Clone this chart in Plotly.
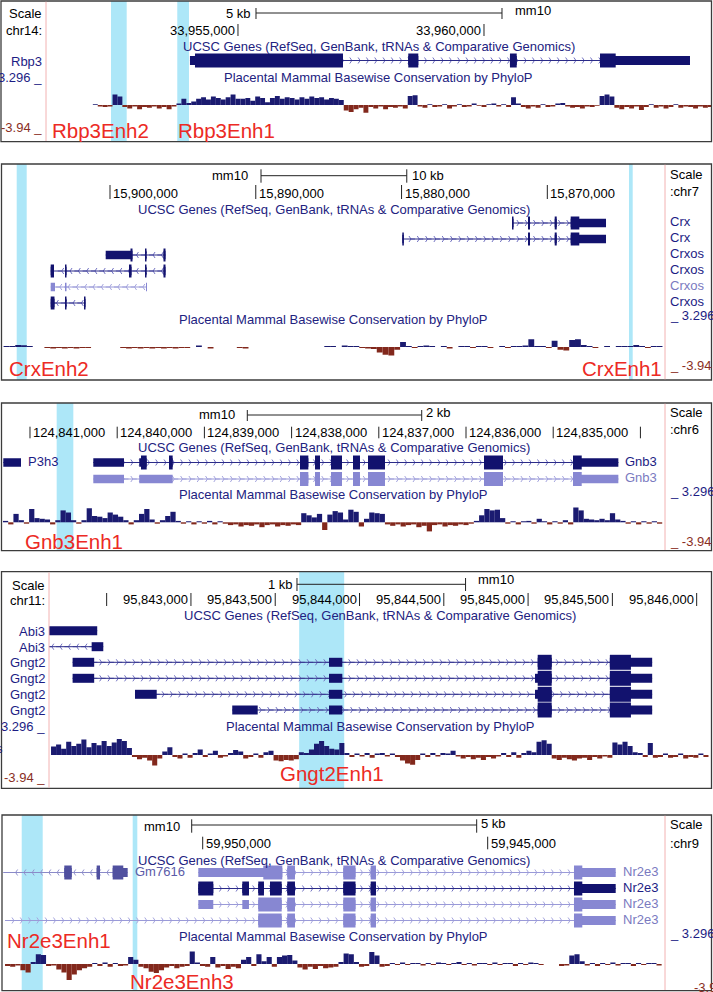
import plotly.graph_objects as go

# =============================== DATA ===============================
CONS_MIN, CONS_MAX = -3.94, 3.296

# ---- Panel 1: Rbp3 region (mm10 chr14, forward) ----
p1_chrom = "chr14:"
p1_view = [33951098, 33964614]
p1_ticks = [33955000, 33960000]
p1_tick_labels = ["33,955,000", "33,960,000"]
p1_scale = ["5 kb", 5000]
p1_enh_names = ["Rbp3Enh2", "Rbp3Enh1"]
p1_enh_spans = [[33952419, 33952738], [33953766, 33954004]]
p1_tx_names = ["Rbp3"]
p1_tx_strand = ["+"]
p1_tx_spans = [[33954024, 33964187]]
p1_cds_spans = [[33954126, 33962677]]
p1_exons = [[[33954024, 33957134], [33958461, 33958665], [33960528, 33960665], [33962358, 33964187]]]
p1_cons_start, p1_cons_step = 33952050, 100
p1_cons = [0.1, -0.2, -0.3, -0.2, 1.5, 1.2,
           -0.3, -0.5, -0.2, -0.6, -0.3, -0.4, -0.2, -0.5, -0.3, -0.6, -0.2,
           0.2, 0.9, 0.3, 0.5,
           0.9, 1.1, 0.8, 1.2, 1.0, 0.8, 1.1, 1.5, 0.9, 0.9, 1.0, 0.6, 1.2, 1.0, 0.4,
           1.0, 1.3, 0.9, 1.1, 1.0, 0.8, 1.1, 0.9, 1.2, 1.0, 1.1, 0.8, 1.0, 0.9, 0.7,
           -0.8, -1.0, -0.6, -0.4, -1.1, -0.3, -0.5, -0.2, -0.6, -0.3, -0.4, -0.2, -0.5,
           1.3, 1.4,
           -0.2, -0.4, 0.1, -0.3, -0.2, 0.1, -0.5, -0.2, 0.1, -0.3, -0.2, 0.2, -0.1, -0.3,
           0.1, 0.2, -0.2, 0.1, -0.3,
           1.1, 0.2,
           -0.3, -0.5, -0.2, -0.4, 0.1, -0.3, -0.2, 0.2, 0.3, -0.2, -0.4, -0.3, -0.5, -0.2, -0.3, -0.1,
           1.3, 1.5, 1.2,
           -0.4, -0.6, -0.3, -0.5, -0.2, -0.7, -0.3, 0.1, -0.4, -0.2, -0.5, -0.3, 0.1, -0.4,
           -0.2, -0.3, -0.5, -0.2, -0.4, -0.3]

# ---- Panel 2: Crx region (mm10 chr7, reverse display) ----
p2_chrom = ":chr7"
p2_view = [15907409, 15861927]
p2_ticks = [15900000, 15890000, 15880000, 15870000]
p2_tick_labels = ["15,900,000", "15,890,000", "15,880,000", "15,870,000"]
p2_scale = ["10 kb", 10000]
p2_enh_names = ["CrxEnh2", "CrxEnh1"]
p2_enh_spans = [[15905714, 15906400], [15864143, 15864397]]
p2_tx_names = ["Crx", "Crx", "Crxos", "Crxos", "Crxos", "Crxos"]
p2_tx_strand = ["-", "-", "+", "+", "+", "+"]
p2_tx_spans = [[15865974, 15872423], [15865974, 15879947], [15896193, 15900295],
               [15896193, 15904068], [15897462, 15904068], [15901681, 15904068]]
p2_cds_spans = [[15867806, 15872423], [15867806, 15879947], [15896193, 15898594],
                [15896193, 15904068], None, [15901681, 15904068]]
p2_exons = [
    [[15865974, 15868396], [15869356, 15869493], [15871188, 15871325], [15872320, 15872423]],
    [[15865974, 15868396], [15869356, 15869493], [15871188, 15871325], [15879844, 15879947]],
    [[15896193, 15896330], [15897496, 15897599], [15898457, 15900295]],
    [[15896193, 15896330], [15897496, 15897599], [15898525, 15898697], [15902984, 15903087], [15903842, 15904068]],
    [[15897462, 15897530], [15902984, 15903087], [15903773, 15904068]],
    [[15901681, 15901784], [15902984, 15903087], [15903808, 15904068]],
]
p2_cons_start, p2_cons_step = 15907300, -400
p2_cons = [0.15, 0.15, 0.3, 0.25, 0.15, None, None,
           -0.15, -0.2, -0.15, -0.2, -0.15, -0.2, -0.15, -0.15,
           None, None, None, None, None,
           -0.15, -0.2, -0.15, -0.2, -0.15, -0.2, -0.15, -0.2, -0.15, -0.2,
           -0.15, -0.15, None, 0.2, None, -0.2, None, None, None, None, -0.15, -0.2,
           None, None, None, None, None, None, None, None, None, None, None, None, None,
           0.15, 0.15, None, 0.2, 0.15,
           0.15, -0.15, -0.2, -0.3, -0.8, -1.1, -1.2, -0.4, 0.7,
           0.15, -0.15, 0.15, 0.2, 0.15, None, 0.15, -0.2, None,
           0.15, 0.15, -0.15, 0.15, 0.15, -0.15, None, 0.15, -0.15, 0.15, 0.15,
           0.2, 1.1, 0.15, 0.15, -0.15, 0.9, -0.4, -0.5, 1.0, 1.1, 0.3,
           0.15, -0.15, None, 0.15, None,
           0.15, 0.15, 0.15, 0.3, 0.15, -0.15, 0.15, 0.15]

# ---- Panel 3: Gnb3 region (mm10 chr6, reverse display) ----
p3_chrom = ":chr6"
p3_view = [124841321, 124833718]
p3_ticks = [124841000, 124840000, 124839000, 124838000, 124837000, 124836000, 124835000, 124834000]
p3_tick_labels = ["124,841,000", "124,840,000", "124,839,000", "124,838,000",
                  "124,837,000", "124,836,000", "124,835,000", ""]
p3_scale = ["2 kb", 2000]
p3_enh_names = ["Gnb3Enh1"]
p3_enh_spans = [[124840503, 124840694]]
p3_tx_names = ["P3h3", "Gnb3", "Gnb3"]
p3_tx_strand = ["+", "-", "-"]
p3_tx_spans = [[124841103, 124841306], [124834253, 124840274], [124834253, 124840274]]
p3_cds_spans = [None, [124834673, 124839727], [124834673, 124837904]]
p3_exons = [
    [[124841103, 124841306]],
    [[124834253, 124834773], [124835576, 124835794], [124836929, 124837124], [124837216, 124837296],
     [124837422, 124837548], [124837674, 124837732], [124837808, 124837904], [124839364, 124839406],
     [124839662, 124839747], [124839922, 124840274]],
    [[124834253, 124834773], [124835576, 124835794], [124836929, 124837124], [124837216, 124837296],
     [124837422, 124837548], [124837674, 124837732], [124837808, 124837904], [124839364, 124839747],
     [124839922, 124840274]],
]
p3_cons_start, p3_cons_step = 124841310, -60
p3_cons = [0.2, -0.3, 1.2, 0.3, -0.2, 1.9, 0.6, 0.5, 0.4, -0.3,
           0.3, 1.7, 1.4, 0.3, -0.2, 0.3, 2.0, 0.9, 0.8, 0.6,
           1.4, 1.1, 0.8, 0.3, -0.3, 0.3, 1.2, 1.9, 0.4, -0.2,
           0.3, 0.9, 1.5, 0.2,
           -0.2, 0.15, -0.3, 0.15, -0.2, 0.2, -0.3, 0.15, -0.2,
           -0.4, -0.3, -0.6, -0.4, -0.5, -0.3, -0.7, -0.4, -0.3, -0.6, -0.4, -0.5, -0.3, -0.4,
           1.3, 1.0, 0.7, 1.2, -1.1, 1.1, 1.6, 1.4, 0.4,
           1.8, 1.5, -0.6, 0.5, 1.4, 1.3, 1.2,
           -0.3, -0.5, -0.3, -0.6, -0.4, -0.3, -0.7, -0.5, -1.3, -0.4, -0.3, -0.6, -0.4, -0.5,
           -0.3, -0.4, -0.2,
           0.2, 1.0, 1.9, 1.7, 1.8, 0.6,
           -0.2, 0.15, -0.3, 0.15, 0.2, -0.2, 0.5, 0.15, -0.3, 0.15, -0.2, 0.3, -0.3,
           2.1, 1.7, 0.5,
           0.4, 0.3, 0.5, 0.3, 1.3, 0.4, 0.2,
           -0.2, 0.15, -0.3, 0.15, -0.2, 0.15, -0.2]

# ---- Panel 4: Gngt2 region (mm10 chr11, forward) ----
p4_chrom = "chr11:"
p4_view = [95842158, 95846085]
p4_ticks = [95842500, 95843000, 95843500, 95844000, 95844500, 95845000, 95845500, 95846000]
p4_tick_labels = ["", "95,843,000", "95,843,500", "95,844,000", "95,844,500",
                  "95,845,000", "95,845,500", "95,846,000"]
p4_scale = ["1 kb", 1000]
p4_enh_names = ["Gngt2Enh1"]
p4_enh_spans = [[95843642, 95843909]]
p4_tx_names = ["Abi3", "Abi3", "Gngt2", "Gngt2", "Gngt2", "Gngt2"]
p4_tx_strand = ["-", "-", "+", "+", "+", "+"]
p4_tx_spans = [[95842150, 95842444], [95842150, 95842480], [95842298, 95845736],
               [95842298, 95845736], [95842668, 95845736], [95843245, 95845736]]
p4_cds_spans = [None, None, [95845057, 95845610], [95845057, 95845610],
                [95845057, 95845610], [95845057, 95845610]]
p4_exons = [
    [[95842150, 95842444]],
    [[95842411, 95842480]],
    [[95842298, 95842426], [95843819, 95843898], [95845057, 95845140], [95845485, 95845736]],
    [[95842298, 95842426], [95843819, 95843898], [95845041, 95845140], [95845485, 95845736]],
    [[95842668, 95842797], [95843819, 95843898], [95845041, 95845140], [95845485, 95845736]],
    [[95843245, 95843396], [95843819, 95843898], [95845057, 95845140], [95845485, 95845736]],
]
p4_cons_start, p4_cons_step = 95842170, 30
p4_cons = [1.2, 1.5, 0.9, 1.9, 1.3, 1.6, 2.2, 1.1, 1.7, 1.4, 2.0, 1.3, 1.8, 2.3, 2.0, 1.0,
           -0.3, -0.6, -0.4, -0.8, -1.5, -0.5,
           0.5, 1.1, -0.3, -0.5, 0.2, -0.4, 0.3, 0.8, -0.3, 0.2, 0.6, -0.4, -0.2, 0.3,
           0.7, 0.5, -0.5, -0.3, 0.2, -0.4, 0.4, 0.6, -0.8, -0.9, -0.7, -0.8, -0.6, 0.4,
           0.3, 0.8, 1.6, 2.0, 1.3, 0.9, 0.8, 1.7, 0.3,
           -0.3, 0.2, -0.2, 0.3, -0.4, 0.2, 0.3, -0.2, 0.2, -0.3,
           -0.8, -1.2, -1.4, -0.7,
           0.2, -0.3, 0.3, -0.2, 0.3, 0.2, 0.6, -0.2,
           -0.5, -0.3, -0.6, -0.4, -0.7, -0.3, -0.5, -0.2,
           0.3, -0.3, 0.4, -0.4, 0.3, 0.6, 0.4,
           1.9, 2.1, 1.6,
           -0.5, -0.7, -0.4, -0.6, -0.8, -0.5, -0.4, -0.7, -0.3, -0.5, -0.2, -0.4,
           1.8, 1.5, 1.9, 1.3,
           0.4, 0.3, -0.3, 1.7, -0.4, -0.3, 0.2, -0.4, -0.3, 0.2, -0.5, -0.3, -0.4, 0.2, -0.3]

# ---- Panel 5: Nr2e3 region (mm10 chr9, reverse display) ----
p5_chrom = ":chr9"
p5_view = [59953521, 59941889]
p5_ticks = [59950000, 59945000]
p5_tick_labels = ["59,950,000", "59,945,000"]
p5_scale = ["5 kb", 5000]
p5_enh_names = ["Nr2e3Enh1", "Nr2e3Enh3"]
p5_enh_spans = [[59952807, 59953175], [59951147, 59951228]]
p5_tx_names = ["Gm7616", "Nr2e3", "Nr2e3", "Nr2e3", "Nr2e3"]
p5_tx_strand = ["+", "-", "-", "-", "-"]
p5_tx_spans = [[59951316, 59953500], [59942754, 59950077], [59942754, 59950077],
               [59942754, 59950077], [59942754, 59953468]]
p5_cds_spans = [[59951393, 59952428], [59943340, 59948937], [59943340, 59950077],
                [59943340, 59949025], [59943340, 59949025]]
p5_exons = [
    [[59951316, 59951579], [59951802, 59951860], [59952298, 59952428]],
    [[59942754, 59943486], [59946960, 59947053], [59947319, 59947533], [59948381, 59948516], [59948603, 59950077]],
    [[59942754, 59943486], [59946960, 59947053], [59947319, 59947533], [59948381, 59948516],
     [59948614, 59948819], [59948925, 59949025], [59949188, 59949305], [59949814, 59950077]],
    [[59942754, 59943486], [59946960, 59947053], [59947319, 59947533], [59948381, 59948516],
     [59948614, 59949025], [59949188, 59949305], [59949814, 59950077]],
    [[59942754, 59943486], [59946960, 59947053], [59947319, 59947533], [59948381, 59948516], [59948614, 59949025]],
]
p5_cons_start, p5_cons_step = 59953468, -90
p5_cons = [-0.3, -0.4, -0.2, -0.9, -1.2, 0.3, 1.4, 1.3, -0.3, -0.2,
           -0.8, -1.2, -2.3, -1.5, -0.9, -0.6, -0.4,
           0.15, -0.3, 0.2, -0.4, 0.15, -0.3, -0.2, 1.0, 0.6,
           -0.4, -0.6, -1.1, -1.3, -0.9, -0.5, -0.3, -0.6, -0.4, -0.3,
           1.8, 0.2, -0.3, -0.4, 1.0, -0.5, -0.3, -0.7, -0.4, -0.6, 0.6, 1.0, -0.3, 1.4, 0.4,
           1.0, -0.4, 1.0, 1.2, 1.3, 0.5,
           -0.5, -0.8, -0.4, -0.7, -0.3, -0.6, -0.5, -0.4, 0.3,
           1.5, 1.4, 0.3, -0.4, -0.3, 1.7, 1.2, -0.4, -0.3,
           0.15, -0.15, 0.2, -0.15, 0.15, 0.15, -0.2, 0.15, -0.15, 0.2, 0.15, -0.15, 0.15, 0.3, -0.15,
           0.15, -0.2, 0.15, 0.15, -0.15, 0.2, -0.15, 0.15, 0.15, -0.3, 0.15, -0.15, 0.2, 0.15, -0.15,
           None, None, None, -0.3, -0.2, 1.2, 1.4, 0.4,
           -0.2, 0.15, -0.3, 0.15, -0.15, 0.2, -0.2, 0.15, 0.15, -0.3, 0.15, -0.15, 0.15, 0.15, -0.2]

# ============================ STYLE / LAYOUT ============================
W, H = 713, 992
FONT = "Liberation Sans, Arial, Helvetica, sans-serif"
NAVY_TXT = "#1c1c84"
TITLE = "#222280"
RED = "#ec2a24"
HIGHLIGHT = "#ade7f8"
PINK = "#f2b2b2"
BOXC = "#3c3c3c"
CPOS, CNEG = "#1b1b70", "#82281c"
LOWC = "#8a2e24"
STY = {
    "navy": dict(exon="#12126e", line="#2b2b88", chev="#7272c2", label="#1c1c84"),
    "light": dict(exon="#8787d2", line="#9a9ad8", chev="#a6a6df", label="#7a7abf"),
    "medium": dict(exon="#50509f", line="#8a8ac8", chev="#9494cf", label="#5b5ba8"),
}


def pdata(pfx):
    g = globals()
    keys = ["chrom", "view", "ticks", "tick_labels", "scale", "enh_names", "enh_spans", "tx_names",
            "tx_strand", "tx_spans", "cds_spans", "exons", "cons_start", "cons_step", "cons"]
    return {k: g[pfx + "_" + k] for k in keys}


PANELS = [
    dict(n=1, d=pdata("p1"), box=(1, 1, 711.5, 141.7), dom=(46, 711), pink=46, side="left", col_x=44,
         scale_y=13, scale_tk=(8, 19), scale_left=33955366, sl_txt=(-3, 13), sr_txt=(11, 10),
         scale_words=("kb", "mm10"), tick_y=30, tick_span=(24, 36), tick_side="right",
         ucsc_y=46, phylo_y=77, base=105, hi_y=77, lo_y=127, head_y=(13, 30),
         rows=[60.5], styles=["navy"], names="left", enh_pos=[(50, 130), (176, 130)], thick=14, thin=9),
    dict(n=2, d=pdata("p2"), box=(1.5, 164, 711.5, 380), dom=(2, 665), pink=665, side="right", col_x=668,
         scale_y=175.7, scale_tk=(169.3, 182.7), scale_left=15889641, sl_txt=(-11, 175.7), sr_txt=(3, 175),
         scale_words=("mm10", "kb"), tick_y=193, tick_span=(185, 199), tick_side="left",
         ucsc_y=209, phylo_y=319.3, base=347, hi_y=315, lo_y=365, head_y=(174, 191.5),
         rows=[223, 239, 255, 271, 287, 303], styles=["navy", "navy", "navy", "navy", "light", "navy"],
         names="right", enh_pos=[(7, 368), (580, 368)], thick=13, thin=8.5),
    dict(n=3, d=pdata("p3"), box=(1.5, 403, 711.5, 550.7), dom=(2, 665), pink=665, side="right", col_x=668,
         scale_y=415, scale_tk=(410, 421), scale_left=124838508, sl_txt=(-10.5, 414), sr_txt=(2.3, 412),
         scale_words=("mm10", "kb"), tick_y=432.3, tick_span=(426.7, 438.3), tick_side="left",
         ucsc_y=447.7, phylo_y=494.3, base=522.3, hi_y=491.7, lo_y=541, head_y=(412.3, 429),
         rows=[462.5, 462.5, 479], styles=["navy", "navy", "light"], names="beside",
         enh_pos=[(22.7, 541)], thick=14, thin=8.5),
    dict(n=4, d=pdata("p4"), box=(1.5, 571.7, 711.5, 788.3), dom=(49, 711), pink=49, side="left", col_x=47,
         scale_y=584.3, scale_tk=(578, 591), scale_left=95843629, sl_txt=(-2, 584.3), sr_txt=(10.7, 579),
         scale_words=("kb", "mm10"), tick_y=599.3, tick_span=(593, 606), tick_side="right",
         ucsc_y=615.5, phylo_y=726.7, base=755, hi_y=726.7, lo_y=777.7, head_y=(585, 600),
         rows=[630.7, 646.7, 662.3, 678.3, 694.3, 710], styles=["navy"] * 6, names="left",
         enh_pos=[(277.7, 773.3)], thick=15, thin=9),
    dict(n=5, d=pdata("p5"), box=(2, 815, 711.5, 990.7), dom=(2, 665), pink=665, side="right", col_x=668,
         scale_y=825, scale_tk=(819.3, 832.7), scale_left=59950193, sl_txt=(-10, 826), sr_txt=(2.7, 823.3),
         scale_words=("mm10", "kb"), tick_y=843.3, tick_span=(836.7, 849.3), tick_side="left",
         ucsc_y=860, phylo_y=936.7, base=964, hi_y=933.3, lo_y=987, head_y=(824, 843.3),
         rows=[872.5, 872.5, 888.5, 904.5, 920.5], styles=["medium", "light", "navy", "light", "light"],
         names="beside", enh_pos=[(5, 940), (128.3, 981.7)], thick=14, thin=9, lo_special=(692,)),
]

fig = go.Figure()
shapes, annos = [], []
lay = dict(
    width=W, height=H, autosize=False, margin=dict(l=0, r=0, t=0, b=0),
    paper_bgcolor="white", plot_bgcolor="rgba(0,0,0,0)", showlegend=False,
    yaxis=dict(domain=[0, 1], range=[H, 0], visible=False, anchor="x", fixedrange=True),
)


def A(text, x, y, xanchor="left", size=13, color="#000000", xref="paper", xshift=0):
    annos.append(dict(text=text, x=(x / W if xref == "paper" else x), y=y, xref=xref, yref="y",
                      xanchor=xanchor, yanchor="middle", showarrow=False, xshift=xshift,
                      font=dict(family=FONT, size=size, color=color)))


def LINE(x0, x1, y0, y1, xref, color, width=1.0, layer="above"):
    shapes.append(dict(type="line", xref=xref, yref="y", x0=x0, x1=x1, y0=y0, y1=y1,
                       line=dict(color=color, width=width), layer=layer))


def RECT(x0, x1, y0, y1, xref, fill, layer="above"):
    shapes.append(dict(type="rect", xref=xref, yref="y", x0=x0, x1=x1, y0=y0, y1=y1,
                       fillcolor=fill, line=dict(width=0), layer=layer))


for P in PANELS:
    n, D = P["n"], P["d"]
    xr = "x" if n == 1 else f"x{n}"
    xa = "xaxis" if n == 1 else f"xaxis{n}"
    yc, yca = f"y{n + 1}", f"yaxis{n + 1}"
    view = D["view"]
    d0, d1 = P["dom"]
    rev = view[0] > view[1]
    pxbp = (d1 - d0) / abs(view[1] - view[0])
    lay[xa] = dict(domain=[d0 / W, d1 / W], range=view, visible=False, anchor="y", fixedrange=True)
    k = 7.0
    top, bot = P["base"] - CONS_MAX * k, P["base"] - CONS_MIN * k
    lay[yca] = dict(domain=[1 - bot / H, 1 - top / H], range=[CONS_MIN, CONS_MAX], visible=False,
                    anchor=xr, fixedrange=True)
    bx0, by0, bx1, by1 = P["box"]

    # highlight bands
    for s, e in D["enh_spans"]:
        RECT(s, e, by0, by1, xr, HIGHLIGHT, layer="below")

    # conservation bars
    vals = D["cons"]
    xs = [D["cons_start"] + D["cons_step"] * (j + 0.5) for j in range(len(vals))]
    cols = [CPOS if (v is not None and v >= 0) else CNEG for v in vals]
    fig.add_trace(go.Bar(x=xs, y=vals, width=abs(D["cons_step"]),
                         marker=dict(color=cols, line=dict(width=0)),
                         xaxis=xr, yaxis=yc, hoverinfo="skip", showlegend=False))

    # transcripts
    for i, name in enumerate(D["tx_names"]):
        st = STY[P["styles"][i]]
        row = P["rows"][i]
        s, e = D["tx_spans"][i]
        step = 8.3 / pxbp
        nch = int((e - s) / step)
        right = (D["tx_strand"][i] == "+") != rev
        if nch > 0:
            cx = [s + step * (j + 0.5) for j in range(nch)]
            fig.add_trace(go.Scatter(x=cx, y=[row] * nch, mode="markers", xaxis=xr, yaxis="y",
                                     marker=dict(symbol="y-right" if right else "y-left", size=5,
                                                 color=st["chev"], line=dict(color=st["chev"], width=1)),
                                     hoverinfo="skip", showlegend=False))
        LINE(s, e, row, row, xr, st["line"], 1.0)
        cds = D["cds_spans"][i]
        for a, b in D["exons"][i]:
            RECT(a, b, row - P["thin"] / 2, row + P["thin"] / 2, xr, st["exon"])
            if cds:
                ca, cb = max(a, cds[0]), min(b, cds[1])
                if ca < cb:
                    RECT(ca, cb, row - P["thick"] / 2, row + P["thick"] / 2, xr, st["exon"])
        if P["names"] == "left":
            A(name, P["col_x"], row + 0.5, "right", color=st["label"])
        elif P["names"] == "right":
            A(name, P["col_x"], row - 1.5, "left", color=st["label"])
        else:
            A(name, s if rev else e, row - 1.5, "left", color=st["label"], xref=xr, xshift=5)

    # panel frame and label-column divider
    shapes.append(dict(type="rect", xref="paper", yref="y", x0=bx0 / W, x1=bx1 / W, y0=by0, y1=by1,
                       line=dict(color=BOXC, width=1.3), fillcolor="rgba(0,0,0,0)", layer="above"))
    shapes.append(dict(type="line", xref="paper", yref="y", x0=P["pink"] / W, x1=P["pink"] / W,
                       y0=by0 + 0.7, y1=by1 - 0.7, line=dict(color=PINK, width=1), layer="above"))

    # scale bar
    label, length = D["scale"]
    sl = P["scale_left"]
    sr = sl - length if rev else sl + length
    y = P["scale_y"]
    LINE(sl, sr, y, y, xr, "#222222", 1)
    for xx in (sl, sr):
        LINE(xx, xx, P["scale_tk"][0], P["scale_tk"][1], xr, "#222222", 1)
    left_word, right_word = P["scale_words"]
    lt = label if left_word == "kb" else "mm10"
    rt = label if right_word == "kb" else "mm10"
    A(lt, sl, P["sl_txt"][1], "right", xref=xr, xshift=P["sl_txt"][0])
    A(rt, sr, P["sr_txt"][1], "left", xref=xr, xshift=P["sr_txt"][0])

    # coordinate ticks
    for t, tl in zip(D["ticks"], D["tick_labels"]):
        LINE(t, t, P["tick_span"][0], P["tick_span"][1], xr, "#222222", 1)
        if tl:
            if P["tick_side"] == "right":
                A(tl, t, P["tick_y"], "right", xref=xr, xshift=-1)
            else:
                A(tl, t, P["tick_y"], "left", xref=xr, xshift=1)

    # track titles
    cxp = (d0 + d1) / 2
    A("UCSC Genes (RefSeq, GenBank, tRNAs &amp; Comparative Genomics)", cxp, P["ucsc_y"], "center", color=TITLE)
    A("Placental Mammal Basewise Conservation by PhyloP", cxp, P["phylo_y"], "center", color=TITLE)

    # label column
    hi, lo = f"{CONS_MAX:g}", f"{CONS_MIN:g}"
    if P["side"] == "left":
        A("Scale", P["col_x"], P["head_y"][0], "right")
        A(D["chrom"], P["col_x"], P["head_y"][1], "right")
        A(hi + " _", P["col_x"], P["hi_y"], "right", color=NAVY_TXT)
        A(lo + " _", P["col_x"], P["lo_y"], "right", color=LOWC)
    else:
        A("Scale", P["col_x"], P["head_y"][0], "left")
        A(D["chrom"], P["col_x"], P["head_y"][1], "left")
        A("_ " + hi, P["col_x"], P["hi_y"], "left", color=NAVY_TXT)
        if "lo_special" in P:
            A(lo, P["lo_special"][0], P["lo_y"], "left", color=LOWC)
        else:
            A("_ " + lo, P["col_x"], P["lo_y"], "left", color=LOWC)

    # enhancer labels
    for nm, (ex, ey) in zip(D["enh_names"], P["enh_pos"]):
        A(nm, ex, ey, "left", size=20.5, color=RED)

# cut-off track label at left edge of panel 4
A("s", 5, 748, "right", color=NAVY_TXT)

lay["shapes"] = shapes
lay["annotations"] = annos
fig.update_layout(**lay)
fig.write_html("out.html", config={"displayModeBar": False, "staticPlot": True},
               post_script="document.body.style.margin='0px';document.body.style.overflow='hidden';")
